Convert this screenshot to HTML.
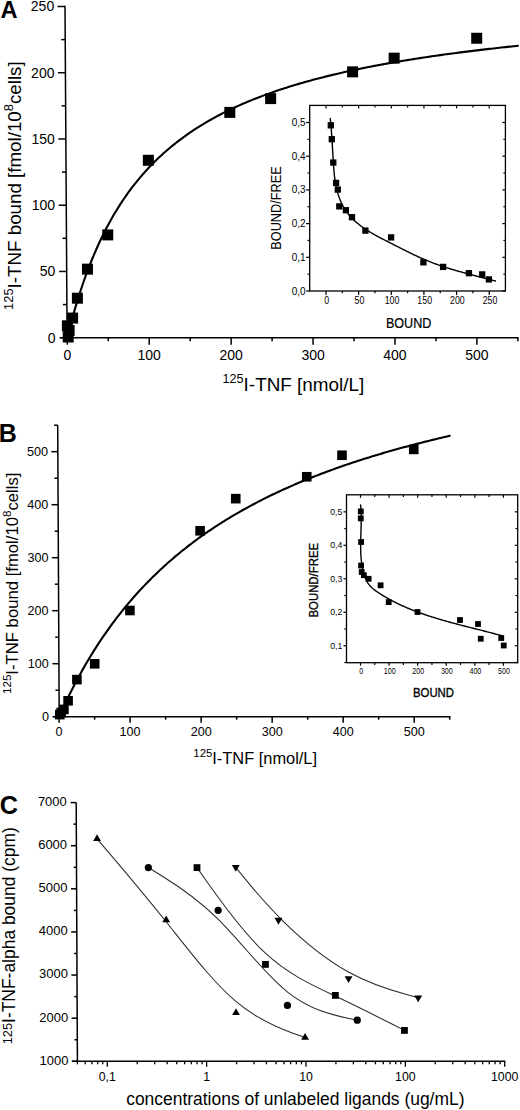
<!DOCTYPE html>
<html><head><meta charset="utf-8"><style>
html,body{margin:0;padding:0;background:#fff;}
body{width:520px;height:1110px;overflow:hidden;}
svg{display:block;}
text{font-family:"Liberation Sans", sans-serif;fill:#000;}
</style></head><body>
<svg width="520" height="1110" viewBox="0 0 520 1110">
<rect width="520" height="1110" fill="#fff"/>
<line x1="65" y1="5.8" x2="67.1" y2="337.7" stroke="#000" stroke-width="1.5"/>
<line x1="59.6" y1="337.7" x2="67.1" y2="337.7" stroke="#000" stroke-width="1.5"/>
<line x1="62.89" y1="304.58" x2="66.89" y2="304.58" stroke="#000" stroke-width="1.5"/>
<line x1="59.18" y1="271.46" x2="66.68" y2="271.46" stroke="#000" stroke-width="1.5"/>
<line x1="62.47" y1="238.34" x2="66.47" y2="238.34" stroke="#000" stroke-width="1.5"/>
<line x1="58.76" y1="205.22" x2="66.26" y2="205.22" stroke="#000" stroke-width="1.5"/>
<line x1="62.05" y1="172.1" x2="66.05" y2="172.1" stroke="#000" stroke-width="1.5"/>
<line x1="58.34" y1="138.98" x2="65.84" y2="138.98" stroke="#000" stroke-width="1.5"/>
<line x1="61.63" y1="105.86" x2="65.63" y2="105.86" stroke="#000" stroke-width="1.5"/>
<line x1="57.92" y1="72.74" x2="65.42" y2="72.74" stroke="#000" stroke-width="1.5"/>
<line x1="61.21" y1="39.62" x2="65.21" y2="39.62" stroke="#000" stroke-width="1.5"/>
<line x1="57.5" y1="6.5" x2="65" y2="6.5" stroke="#000" stroke-width="1.5"/>
<text x="55.6" y="342.5" font-size="14" text-anchor="end" font-weight="normal" >0</text>
<text x="55.32" y="276.26" font-size="14" text-anchor="end" font-weight="normal" >50</text>
<text x="55.04" y="210.02" font-size="14" text-anchor="end" font-weight="normal" >100</text>
<text x="54.76" y="143.78" font-size="14" text-anchor="end" font-weight="normal" >150</text>
<text x="54.48" y="77.54" font-size="14" text-anchor="end" font-weight="normal" >200</text>
<text x="54.2" y="11.3" font-size="14" text-anchor="end" font-weight="normal" >250</text>
<line x1="60.2" y1="337.7" x2="518.56" y2="337.7" stroke="#000" stroke-width="1.5"/>
<line x1="67.3" y1="337.7" x2="67.3" y2="344.7" stroke="#000" stroke-width="1.5"/>
<line x1="108.26" y1="337.7" x2="108.26" y2="341.2" stroke="#000" stroke-width="1.5"/>
<line x1="149.22" y1="337.7" x2="149.22" y2="344.7" stroke="#000" stroke-width="1.5"/>
<line x1="190.18" y1="337.7" x2="190.18" y2="341.2" stroke="#000" stroke-width="1.5"/>
<line x1="231.14" y1="337.7" x2="231.14" y2="344.7" stroke="#000" stroke-width="1.5"/>
<line x1="272.1" y1="337.7" x2="272.1" y2="341.2" stroke="#000" stroke-width="1.5"/>
<line x1="313.06" y1="337.7" x2="313.06" y2="344.7" stroke="#000" stroke-width="1.5"/>
<line x1="354.02" y1="337.7" x2="354.02" y2="341.2" stroke="#000" stroke-width="1.5"/>
<line x1="394.98" y1="337.7" x2="394.98" y2="344.7" stroke="#000" stroke-width="1.5"/>
<line x1="435.94" y1="337.7" x2="435.94" y2="341.2" stroke="#000" stroke-width="1.5"/>
<line x1="476.9" y1="337.7" x2="476.9" y2="344.7" stroke="#000" stroke-width="1.5"/>
<line x1="517.86" y1="337.7" x2="517.86" y2="341.2" stroke="#000" stroke-width="1.5"/>
<text x="67.3" y="359.9" font-size="14" text-anchor="middle" font-weight="normal" >0</text>
<text x="149.22" y="359.9" font-size="14" text-anchor="middle" font-weight="normal" >100</text>
<text x="231.14" y="359.9" font-size="14" text-anchor="middle" font-weight="normal" >200</text>
<text x="313.06" y="359.9" font-size="14" text-anchor="middle" font-weight="normal" >300</text>
<text x="394.98" y="359.9" font-size="14" text-anchor="middle" font-weight="normal" >400</text>
<text x="476.9" y="359.9" font-size="14" text-anchor="middle" font-weight="normal" >500</text>
<path d="M67.3,337.7 L69.35,329.52 L71.4,321.72 L73.44,314.27 L75.49,307.14 L77.54,300.33 L79.59,293.8 L81.64,287.54 L83.68,281.53 L85.73,275.77 L87.78,270.22 L89.83,264.89 L91.88,259.76 L93.92,254.82 L95.97,250.05 L98.02,245.46 L100.07,241.02 L102.12,236.74 L104.16,232.6 L106.21,228.6 L108.26,224.73 L110.31,220.98 L112.36,217.35 L114.4,213.83 L116.45,210.42 L118.5,207.12 L120.55,203.91 L122.6,200.79 L124.64,197.77 L126.69,194.83 L128.74,191.97 L130.79,189.19 L132.84,186.49 L134.88,183.86 L136.93,181.3 L138.98,178.81 L141.03,176.38 L143.08,174.02 L145.12,171.71 L147.17,169.46 L149.22,167.27 L151.27,165.13 L153.32,163.04 L155.36,161 L157.41,159 L159.46,157.06 L161.51,155.16 L163.56,153.3 L165.6,151.48 L167.65,149.7 L169.7,147.97 L171.75,146.27 L173.8,144.6 L175.84,142.97 L177.89,141.38 L179.94,139.82 L181.99,138.29 L184.04,136.79 L186.08,135.32 L188.13,133.88 L190.18,132.47 L192.23,131.09 L194.28,129.73 L196.32,128.4 L198.37,127.1 L200.42,125.82 L202.47,124.56 L204.52,123.33 L206.56,122.12 L208.61,120.93 L210.66,119.76 L212.71,118.62 L214.76,117.49 L216.8,116.38 L218.85,115.29 L220.9,114.23 L222.95,113.17 L225,112.14 L227.04,111.13 L229.09,110.13 L231.14,109.14 L233.19,108.18 L235.24,107.23 L237.28,106.29 L239.33,105.37 L241.38,104.47 L243.43,103.57 L245.48,102.7 L247.52,101.83 L249.57,100.98 L251.62,100.14 L253.67,99.32 L255.72,98.51 L257.76,97.7 L259.81,96.92 L261.86,96.14 L263.91,95.37 L265.96,94.62 L268,93.87 L270.05,93.14 L272.1,92.42 L274.15,91.7 L276.2,91 L278.24,90.31 L280.29,89.62 L282.34,88.95 L284.39,88.28 L286.44,87.63 L288.48,86.98 L290.53,86.34 L292.58,85.71 L294.63,85.09 L296.68,84.47 L298.72,83.87 L300.77,83.27 L302.82,82.68 L304.87,82.09 L306.92,81.52 L308.96,80.95 L311.01,80.39 L313.06,79.83 L315.11,79.28 L317.16,78.74 L319.2,78.21 L321.25,77.68 L323.3,77.16 L325.35,76.64 L327.4,76.13 L329.44,75.63 L331.49,75.13 L333.54,74.64 L335.59,74.16 L337.64,73.68 L339.68,73.2 L341.73,72.73 L343.78,72.27 L345.83,71.81 L347.88,71.35 L349.92,70.91 L351.97,70.46 L354.02,70.02 L356.07,69.59 L358.12,69.16 L360.16,68.74 L362.21,68.32 L364.26,67.9 L366.31,67.49 L368.36,67.08 L370.4,66.68 L372.45,66.28 L374.5,65.89 L376.55,65.5 L378.6,65.11 L380.64,64.73 L382.69,64.35 L384.74,63.98 L386.79,63.61 L388.84,63.24 L390.88,62.88 L392.93,62.52 L394.98,62.16 L397.03,61.81 L399.08,61.46 L401.12,61.12 L403.17,60.77 L405.22,60.44 L407.27,60.1 L409.32,59.77 L411.36,59.44 L413.41,59.11 L415.46,58.79 L417.51,58.47 L419.56,58.15 L421.6,57.84 L423.65,57.53 L425.7,57.22 L427.75,56.92 L429.8,56.61 L431.84,56.31 L433.89,56.02 L435.94,55.72 L437.99,55.43 L440.04,55.14 L442.08,54.86 L444.13,54.57 L446.18,54.29 L448.23,54.01 L450.28,53.73 L452.32,53.46 L454.37,53.19 L456.42,52.92 L458.47,52.65 L460.52,52.39 L462.56,52.13 L464.61,51.87 L466.66,51.61 L468.71,51.35 L470.76,51.1 L472.8,50.85 L474.85,50.6 L476.9,50.35 L478.95,50.1 L481,49.86 L483.04,49.62 L485.09,49.38 L487.14,49.14 L489.19,48.91 L491.24,48.67 L493.28,48.44 L495.33,48.21 L497.38,47.98 L499.43,47.76 L501.48,47.53 L503.52,47.31 L505.57,47.09 L507.62,46.87 L509.67,46.65 L511.72,46.44 L513.76,46.22 L515.81,46.01 L517.86,45.8" fill="none" stroke="#000" stroke-width="2.1" stroke-linejoin="round" stroke-linecap="round"/>
<rect x="142.85" y="154.8" width="11" height="11" fill="#000"/>
<rect x="102.25" y="229.4" width="11" height="11" fill="#000"/>
<rect x="81.95" y="263.65" width="11" height="11" fill="#000"/>
<rect x="71.9" y="292.7" width="11" height="11" fill="#000"/>
<rect x="67.1" y="312.55" width="11" height="11" fill="#000"/>
<rect x="224.3" y="106.9" width="11" height="11" fill="#000"/>
<rect x="265.15" y="93.1" width="11" height="11" fill="#000"/>
<rect x="347.1" y="66.35" width="11" height="11" fill="#000"/>
<rect x="388.65" y="52.65" width="11" height="11" fill="#000"/>
<rect x="471.2" y="32.75" width="11" height="11" fill="#000"/>
<rect x="61.9" y="320.3" width="11" height="11" fill="#000"/>
<rect x="63.6" y="325" width="11" height="11" fill="#000"/>
<rect x="62.7" y="331.5" width="11" height="11" fill="#000"/>
<text x="0.5" y="18.3" font-size="23.6" text-anchor="start" font-weight="bold" >A</text>
<text x="222.6" y="391.2" font-size="18.9"><tspan font-size="12.6" dy="-8.4">125</tspan><tspan dy="8.4">I-TNF [nmol/L]</tspan></text>
<text transform="translate(20.7,309.9) rotate(-90)" x="0" y="0" font-size="18.75"><tspan font-size="12.9" dy="-7.9">125</tspan><tspan dy="7.9">I-TNF bound [fmol/10</tspan><tspan font-size="12.9" dy="-7.9">8</tspan><tspan dy="7.9">cells]</tspan></text>
<rect x="309.7" y="105.4" width="195.7" height="185.6" fill="none" stroke="#000" stroke-width="1.3"/>
<line x1="326" y1="291" x2="326" y2="295" stroke="#000" stroke-width="1.2"/>
<line x1="326" y1="105.4" x2="326" y2="108.4" stroke="#000" stroke-width="1.2"/>
<line x1="342.32" y1="291" x2="342.32" y2="293.2" stroke="#000" stroke-width="1.2"/>
<line x1="342.32" y1="105.4" x2="342.32" y2="107.4" stroke="#000" stroke-width="1.2"/>
<line x1="358.64" y1="291" x2="358.64" y2="295" stroke="#000" stroke-width="1.2"/>
<line x1="358.64" y1="105.4" x2="358.64" y2="108.4" stroke="#000" stroke-width="1.2"/>
<line x1="374.96" y1="291" x2="374.96" y2="293.2" stroke="#000" stroke-width="1.2"/>
<line x1="374.96" y1="105.4" x2="374.96" y2="107.4" stroke="#000" stroke-width="1.2"/>
<line x1="391.28" y1="291" x2="391.28" y2="295" stroke="#000" stroke-width="1.2"/>
<line x1="391.28" y1="105.4" x2="391.28" y2="108.4" stroke="#000" stroke-width="1.2"/>
<line x1="407.6" y1="291" x2="407.6" y2="293.2" stroke="#000" stroke-width="1.2"/>
<line x1="407.6" y1="105.4" x2="407.6" y2="107.4" stroke="#000" stroke-width="1.2"/>
<line x1="423.92" y1="291" x2="423.92" y2="295" stroke="#000" stroke-width="1.2"/>
<line x1="423.92" y1="105.4" x2="423.92" y2="108.4" stroke="#000" stroke-width="1.2"/>
<line x1="440.24" y1="291" x2="440.24" y2="293.2" stroke="#000" stroke-width="1.2"/>
<line x1="440.24" y1="105.4" x2="440.24" y2="107.4" stroke="#000" stroke-width="1.2"/>
<line x1="456.56" y1="291" x2="456.56" y2="295" stroke="#000" stroke-width="1.2"/>
<line x1="456.56" y1="105.4" x2="456.56" y2="108.4" stroke="#000" stroke-width="1.2"/>
<line x1="472.88" y1="291" x2="472.88" y2="293.2" stroke="#000" stroke-width="1.2"/>
<line x1="472.88" y1="105.4" x2="472.88" y2="107.4" stroke="#000" stroke-width="1.2"/>
<line x1="489.2" y1="291" x2="489.2" y2="295" stroke="#000" stroke-width="1.2"/>
<line x1="489.2" y1="105.4" x2="489.2" y2="108.4" stroke="#000" stroke-width="1.2"/>
<line x1="306.1" y1="291" x2="309.7" y2="291" stroke="#000" stroke-width="1.2"/>
<line x1="502.4" y1="291" x2="505.4" y2="291" stroke="#000" stroke-width="1.2"/>
<line x1="307.5" y1="274.15" x2="309.7" y2="274.15" stroke="#000" stroke-width="1.2"/>
<line x1="503.4" y1="274.15" x2="505.4" y2="274.15" stroke="#000" stroke-width="1.2"/>
<line x1="306.1" y1="257.3" x2="309.7" y2="257.3" stroke="#000" stroke-width="1.2"/>
<line x1="502.4" y1="257.3" x2="505.4" y2="257.3" stroke="#000" stroke-width="1.2"/>
<line x1="307.5" y1="240.45" x2="309.7" y2="240.45" stroke="#000" stroke-width="1.2"/>
<line x1="503.4" y1="240.45" x2="505.4" y2="240.45" stroke="#000" stroke-width="1.2"/>
<line x1="306.1" y1="223.6" x2="309.7" y2="223.6" stroke="#000" stroke-width="1.2"/>
<line x1="502.4" y1="223.6" x2="505.4" y2="223.6" stroke="#000" stroke-width="1.2"/>
<line x1="307.5" y1="206.75" x2="309.7" y2="206.75" stroke="#000" stroke-width="1.2"/>
<line x1="503.4" y1="206.75" x2="505.4" y2="206.75" stroke="#000" stroke-width="1.2"/>
<line x1="306.1" y1="189.9" x2="309.7" y2="189.9" stroke="#000" stroke-width="1.2"/>
<line x1="502.4" y1="189.9" x2="505.4" y2="189.9" stroke="#000" stroke-width="1.2"/>
<line x1="307.5" y1="173.05" x2="309.7" y2="173.05" stroke="#000" stroke-width="1.2"/>
<line x1="503.4" y1="173.05" x2="505.4" y2="173.05" stroke="#000" stroke-width="1.2"/>
<line x1="306.1" y1="156.2" x2="309.7" y2="156.2" stroke="#000" stroke-width="1.2"/>
<line x1="502.4" y1="156.2" x2="505.4" y2="156.2" stroke="#000" stroke-width="1.2"/>
<line x1="307.5" y1="139.35" x2="309.7" y2="139.35" stroke="#000" stroke-width="1.2"/>
<line x1="503.4" y1="139.35" x2="505.4" y2="139.35" stroke="#000" stroke-width="1.2"/>
<line x1="306.1" y1="122.5" x2="309.7" y2="122.5" stroke="#000" stroke-width="1.2"/>
<line x1="502.4" y1="122.5" x2="505.4" y2="122.5" stroke="#000" stroke-width="1.2"/>
<text x="326.8" y="303.6" font-size="11.3" text-anchor="middle" font-weight="normal" textLength="4.9" lengthAdjust="spacingAndGlyphs">0</text>
<text x="359.44" y="303.6" font-size="11.3" text-anchor="middle" font-weight="normal" textLength="9.8" lengthAdjust="spacingAndGlyphs">50</text>
<text x="392.08" y="303.6" font-size="11.3" text-anchor="middle" font-weight="normal" textLength="14.7" lengthAdjust="spacingAndGlyphs">100</text>
<text x="424.72" y="303.6" font-size="11.3" text-anchor="middle" font-weight="normal" textLength="14.7" lengthAdjust="spacingAndGlyphs">150</text>
<text x="457.36" y="303.6" font-size="11.3" text-anchor="middle" font-weight="normal" textLength="14.7" lengthAdjust="spacingAndGlyphs">200</text>
<text x="490" y="303.6" font-size="11.3" text-anchor="middle" font-weight="normal" textLength="14.7" lengthAdjust="spacingAndGlyphs">250</text>
<text x="305.6" y="294.5" font-size="10.9" text-anchor="end" font-weight="normal" textLength="13.9" lengthAdjust="spacingAndGlyphs">0,0</text>
<text x="305.6" y="260.8" font-size="10.9" text-anchor="end" font-weight="normal" textLength="13.9" lengthAdjust="spacingAndGlyphs">0,1</text>
<text x="305.6" y="227.1" font-size="10.9" text-anchor="end" font-weight="normal" textLength="13.9" lengthAdjust="spacingAndGlyphs">0,2</text>
<text x="305.6" y="193.4" font-size="10.9" text-anchor="end" font-weight="normal" textLength="13.9" lengthAdjust="spacingAndGlyphs">0,3</text>
<text x="305.6" y="159.7" font-size="10.9" text-anchor="end" font-weight="normal" textLength="13.9" lengthAdjust="spacingAndGlyphs">0,4</text>
<text x="305.6" y="126" font-size="10.9" text-anchor="end" font-weight="normal" textLength="13.9" lengthAdjust="spacingAndGlyphs">0,5</text>
<text transform="translate(280.5,208) rotate(-90)" x="0" y="0" font-size="14.8" text-anchor="middle" textLength="83.6" lengthAdjust="spacingAndGlyphs">BOUND/FREE</text>
<text x="385.9" y="328.2" font-size="14.2" text-anchor="start" font-weight="normal" textLength="45.4" lengthAdjust="spacingAndGlyphs" stroke="#000" stroke-width="0.2">BOUND</text>
<path d="M330.27,118.51 L330.41,119.8 L330.55,121.09 L330.68,122.38 L330.8,123.67 L330.92,124.96 L331.03,126.26 L331.14,127.55 L331.25,128.85 L331.35,130.15 L331.45,131.45 L331.55,132.75 L331.64,134.05 L331.73,135.35 L331.81,136.66 L331.9,137.96 L331.98,139.27 L332.06,140.58 L332.14,141.89 L332.22,143.2 L332.3,144.51 L332.37,145.83 L332.45,147.14 L332.52,148.46 L332.6,149.78 L332.67,151.1 L332.75,152.43 L332.82,153.75 L332.9,155.08 L332.98,156.4 L333.06,157.74 L333.14,159.07 L333.22,160.4 L333.3,161.74 L333.39,163.07 L333.48,164.41 L333.57,165.76 L333.67,167.1 L333.77,168.44 L333.88,169.78 L333.99,171.12 L334.12,172.47 L334.25,173.8 L334.39,175.14 L334.54,176.48 L334.7,177.81 L334.88,179.14 L335.06,180.46 L335.26,181.78 L335.48,183.1 L335.71,184.41 L335.96,185.72 L336.22,187.02 L336.5,188.31 L336.8,189.59 L337.12,190.87 L337.46,192.14 L337.83,193.4 L338.21,194.66 L338.61,195.9 L339.04,197.13 L339.49,198.35 L339.96,199.56 L340.46,200.76 L340.98,201.95 L341.52,203.12 L342.09,204.28 L342.68,205.43 L343.29,206.56 L343.93,207.68 L344.6,208.78 L345.28,209.87 L346,210.94 L346.74,211.99 L347.5,213.02 L348.29,214.04 L349.11,215.03 L349.95,216.01 L350.81,216.98 L351.7,217.92 L352.61,218.85 L353.53,219.76 L354.48,220.66 L355.45,221.54 L356.43,222.4 L357.43,223.25 L358.45,224.08 L359.48,224.9 L360.53,225.7 L361.59,226.49 L362.66,227.27 L363.75,228.03 L364.84,228.78 L365.95,229.52 L367.06,230.24 L368.18,230.95 L369.32,231.65 L370.45,232.34 L371.6,233.02 L372.75,233.69 L373.91,234.35 L375.08,235.01 L376.24,235.65 L377.42,236.29 L378.6,236.92 L379.78,237.55 L380.96,238.17 L382.15,238.78 L383.34,239.39 L384.53,240 L385.72,240.61 L386.91,241.21 L388.1,241.81 L389.29,242.41 L390.48,243.02 L391.67,243.62 L392.85,244.22 L394.04,244.82 L395.22,245.42 L396.4,246.02 L397.58,246.62 L398.76,247.23 L399.94,247.83 L401.11,248.42 L402.29,249.02 L403.47,249.62 L404.64,250.21 L405.82,250.8 L406.99,251.39 L408.17,251.97 L409.35,252.55 L410.53,253.13 L411.71,253.71 L412.89,254.28 L414.07,254.84 L415.25,255.4 L416.44,255.96 L417.63,256.51 L418.82,257.06 L420.01,257.6 L421.21,258.13 L422.4,258.66 L423.61,259.18 L424.81,259.7 L426.02,260.2 L427.23,260.7 L428.44,261.19 L429.66,261.68 L430.88,262.16 L432.11,262.63 L433.34,263.09 L434.57,263.55 L435.8,264 L437.04,264.45 L438.28,264.89 L439.52,265.32 L440.77,265.75 L442.02,266.17 L443.27,266.59 L444.52,267 L445.78,267.41 L447.03,267.81 L448.29,268.21 L449.55,268.6 L450.82,268.99 L452.08,269.37 L453.35,269.75 L454.61,270.12 L455.88,270.5 L457.15,270.86 L458.43,271.23 L459.7,271.59 L460.97,271.95 L462.25,272.3 L463.53,272.65 L464.8,273 L466.08,273.35 L467.36,273.7 L468.64,274.04 L469.92,274.38 L471.2,274.72 L472.48,275.05 L473.76,275.39 L475.04,275.72 L476.32,276.05 L477.6,276.39 L478.88,276.72 L480.15,277.05 L481.43,277.38 L482.71,277.7 L483.99,278.03 L485.27,278.36 L486.54,278.69 L487.82,279.02 L489.09,279.35 L490.36,279.68 L491.64,280.01 L492.91,280.34 L494.18,280.67 L495.44,281" fill="none" stroke="#000" stroke-width="1.4" stroke-linejoin="round" stroke-linecap="round"/>
<rect x="327.65" y="122.15" width="6.3" height="6.3" fill="#000"/>
<rect x="328.65" y="136.05" width="6.3" height="6.3" fill="#000"/>
<rect x="330.15" y="159.4" width="6.3" height="6.3" fill="#000"/>
<rect x="332.95" y="179.75" width="6.3" height="6.3" fill="#000"/>
<rect x="334.65" y="186.45" width="6.3" height="6.3" fill="#000"/>
<rect x="336.15" y="203.25" width="6.3" height="6.3" fill="#000"/>
<rect x="342.75" y="207.05" width="6.3" height="6.3" fill="#000"/>
<rect x="348.85" y="214.05" width="6.3" height="6.3" fill="#000"/>
<rect x="362.25" y="227.45" width="6.3" height="6.3" fill="#000"/>
<rect x="387.95" y="234.25" width="6.3" height="6.3" fill="#000"/>
<rect x="420.25" y="259.15" width="6.3" height="6.3" fill="#000"/>
<rect x="439.95" y="263.75" width="6.3" height="6.3" fill="#000"/>
<rect x="465.75" y="270.05" width="6.3" height="6.3" fill="#000"/>
<rect x="479.05" y="271.25" width="6.3" height="6.3" fill="#000"/>
<rect x="485.75" y="276.25" width="6.3" height="6.3" fill="#000"/>
<line x1="57.7" y1="425.2" x2="59.2" y2="716.7" stroke="#000" stroke-width="1.5"/>
<line x1="52.7" y1="716.7" x2="59.2" y2="716.7" stroke="#000" stroke-width="1.5"/>
<line x1="55.46" y1="690.2" x2="59.06" y2="690.2" stroke="#000" stroke-width="1.5"/>
<line x1="52.43" y1="663.7" x2="58.93" y2="663.7" stroke="#000" stroke-width="1.5"/>
<line x1="55.19" y1="637.2" x2="58.79" y2="637.2" stroke="#000" stroke-width="1.5"/>
<line x1="52.16" y1="610.7" x2="58.66" y2="610.7" stroke="#000" stroke-width="1.5"/>
<line x1="54.92" y1="584.2" x2="58.52" y2="584.2" stroke="#000" stroke-width="1.5"/>
<line x1="51.88" y1="557.7" x2="58.38" y2="557.7" stroke="#000" stroke-width="1.5"/>
<line x1="54.65" y1="531.2" x2="58.25" y2="531.2" stroke="#000" stroke-width="1.5"/>
<line x1="51.61" y1="504.7" x2="58.11" y2="504.7" stroke="#000" stroke-width="1.5"/>
<line x1="54.38" y1="478.2" x2="57.98" y2="478.2" stroke="#000" stroke-width="1.5"/>
<line x1="51.34" y1="451.7" x2="57.84" y2="451.7" stroke="#000" stroke-width="1.5"/>
<line x1="54.1" y1="425.2" x2="57.7" y2="425.2" stroke="#000" stroke-width="1.5"/>
<text x="49" y="720.9" font-size="12.6" text-anchor="end" font-weight="normal" >0</text>
<text x="48.82" y="667.9" font-size="12.6" text-anchor="end" font-weight="normal" >100</text>
<text x="48.64" y="614.9" font-size="12.6" text-anchor="end" font-weight="normal" >200</text>
<text x="48.46" y="561.9" font-size="12.6" text-anchor="end" font-weight="normal" >300</text>
<text x="48.28" y="508.9" font-size="12.6" text-anchor="end" font-weight="normal" >400</text>
<text x="48.1" y="455.9" font-size="12.6" text-anchor="end" font-weight="normal" >500</text>
<line x1="52.7" y1="716.7" x2="450.41" y2="716.7" stroke="#000" stroke-width="1.5"/>
<line x1="59.1" y1="716.7" x2="59.1" y2="722.7" stroke="#000" stroke-width="1.5"/>
<line x1="94.61" y1="716.7" x2="94.61" y2="719.7" stroke="#000" stroke-width="1.5"/>
<line x1="130.12" y1="716.7" x2="130.12" y2="722.7" stroke="#000" stroke-width="1.5"/>
<line x1="165.63" y1="716.7" x2="165.63" y2="719.7" stroke="#000" stroke-width="1.5"/>
<line x1="201.14" y1="716.7" x2="201.14" y2="722.7" stroke="#000" stroke-width="1.5"/>
<line x1="236.65" y1="716.7" x2="236.65" y2="719.7" stroke="#000" stroke-width="1.5"/>
<line x1="272.16" y1="716.7" x2="272.16" y2="722.7" stroke="#000" stroke-width="1.5"/>
<line x1="307.67" y1="716.7" x2="307.67" y2="719.7" stroke="#000" stroke-width="1.5"/>
<line x1="343.18" y1="716.7" x2="343.18" y2="722.7" stroke="#000" stroke-width="1.5"/>
<line x1="378.69" y1="716.7" x2="378.69" y2="719.7" stroke="#000" stroke-width="1.5"/>
<line x1="414.2" y1="716.7" x2="414.2" y2="722.7" stroke="#000" stroke-width="1.5"/>
<line x1="449.71" y1="716.7" x2="449.71" y2="719.7" stroke="#000" stroke-width="1.5"/>
<text x="59.1" y="735.6" font-size="12.6" text-anchor="middle" font-weight="normal" >0</text>
<text x="130.12" y="735.6" font-size="12.6" text-anchor="middle" font-weight="normal" >100</text>
<text x="201.14" y="735.6" font-size="12.6" text-anchor="middle" font-weight="normal" >200</text>
<text x="272.16" y="735.6" font-size="12.6" text-anchor="middle" font-weight="normal" >300</text>
<text x="343.18" y="735.6" font-size="12.6" text-anchor="middle" font-weight="normal" >400</text>
<text x="414.2" y="735.6" font-size="12.6" text-anchor="middle" font-weight="normal" >500</text>
<path d="M59.1,716.7 L60.88,712.74 L62.65,708.85 L64.43,705.03 L66.2,701.29 L67.98,697.61 L69.75,694 L71.53,690.46 L73.3,686.98 L75.08,683.57 L76.86,680.21 L78.63,676.91 L80.41,673.67 L82.18,670.49 L83.96,667.36 L85.73,664.28 L87.51,661.26 L89.28,658.29 L91.06,655.36 L92.83,652.48 L94.61,649.65 L96.39,646.87 L98.16,644.13 L99.94,641.43 L101.71,638.78 L103.49,636.16 L105.26,633.59 L107.04,631.06 L108.81,628.57 L110.59,626.11 L112.37,623.69 L114.14,621.31 L115.92,618.96 L117.69,616.65 L119.47,614.37 L121.24,612.12 L123.02,609.91 L124.79,607.72 L126.57,605.57 L128.34,603.45 L130.12,601.36 L131.9,599.3 L133.67,597.26 L135.45,595.26 L137.22,593.28 L139,591.33 L140.77,589.4 L142.55,587.5 L144.32,585.63 L146.1,583.77 L147.88,581.95 L149.65,580.15 L151.43,578.37 L153.2,576.61 L154.98,574.88 L156.75,573.16 L158.53,571.47 L160.3,569.8 L162.08,568.16 L163.85,566.53 L165.63,564.92 L167.41,563.33 L169.18,561.76 L170.96,560.21 L172.73,558.68 L174.51,557.16 L176.28,555.67 L178.06,554.19 L179.83,552.73 L181.61,551.28 L183.39,549.86 L185.16,548.45 L186.94,547.05 L188.71,545.67 L190.49,544.31 L192.26,542.96 L194.04,541.63 L195.81,540.31 L197.59,539.01 L199.36,537.72 L201.14,536.44 L202.92,535.18 L204.69,533.93 L206.47,532.7 L208.24,531.48 L210.02,530.27 L211.79,529.07 L213.57,527.89 L215.34,526.72 L217.12,525.56 L218.9,524.42 L220.67,523.28 L222.45,522.16 L224.22,521.05 L226,519.95 L227.77,518.86 L229.55,517.78 L231.32,516.72 L233.1,515.66 L234.87,514.61 L236.65,513.58 L238.43,512.55 L240.2,511.54 L241.98,510.53 L243.75,509.53 L245.53,508.55 L247.3,507.57 L249.08,506.6 L250.85,505.64 L252.63,504.7 L254.41,503.75 L256.18,502.82 L257.96,501.9 L259.73,500.99 L261.51,500.08 L263.28,499.18 L265.06,498.29 L266.83,497.41 L268.61,496.54 L270.38,495.67 L272.16,494.81 L273.94,493.96 L275.71,493.12 L277.49,492.28 L279.26,491.46 L281.04,490.64 L282.81,489.82 L284.59,489.02 L286.36,488.22 L288.14,487.42 L289.92,486.64 L291.69,485.86 L293.47,485.09 L295.24,484.32 L297.02,483.56 L298.79,482.81 L300.57,482.06 L302.34,481.32 L304.12,480.59 L305.89,479.86 L307.67,479.14 L309.45,478.42 L311.22,477.71 L313,477.01 L314.77,476.31 L316.55,475.61 L318.32,474.93 L320.1,474.24 L321.87,473.57 L323.65,472.9 L325.43,472.23 L327.2,471.57 L328.98,470.91 L330.75,470.26 L332.53,469.62 L334.3,468.98 L336.08,468.34 L337.85,467.71 L339.63,467.08 L341.4,466.46 L343.18,465.85 L344.96,465.24 L346.73,464.63 L348.51,464.03 L350.28,463.43 L352.06,462.83 L353.83,462.24 L355.61,461.66 L357.38,461.08 L359.16,460.5 L360.94,459.93 L362.71,459.36 L364.49,458.8 L366.26,458.24 L368.04,457.68 L369.81,457.13 L371.59,456.59 L373.36,456.04 L375.14,455.5 L376.91,454.97 L378.69,454.43 L380.47,453.91 L382.24,453.38 L384.02,452.86 L385.79,452.34 L387.57,451.83 L389.34,451.32 L391.12,450.81 L392.89,450.31 L394.67,449.81 L396.45,449.31 L398.22,448.82 L400,448.33 L401.77,447.84 L403.55,447.36 L405.32,446.88 L407.1,446.4 L408.87,445.93 L410.65,445.46 L412.42,444.99 L414.2,444.53 L415.98,444.07 L417.75,443.61 L419.53,443.15 L421.3,442.7 L423.08,442.25 L424.85,441.81 L426.63,441.36 L428.4,440.92 L430.18,440.49 L431.96,440.05 L433.73,439.62 L435.51,439.19 L437.28,438.76 L439.06,438.34 L440.83,437.92 L442.61,437.5 L444.38,437.08 L446.16,436.67 L447.93,436.26 L449.71,435.85" fill="none" stroke="#000" stroke-width="2.1" stroke-linejoin="round" stroke-linecap="round"/>
<rect x="125.1" y="605.7" width="9.6" height="9.6" fill="#000"/>
<rect x="89.9" y="659" width="9.6" height="9.6" fill="#000"/>
<rect x="72.1" y="674.8" width="9.6" height="9.6" fill="#000"/>
<rect x="63.3" y="696" width="9.6" height="9.6" fill="#000"/>
<rect x="59.1" y="704.6" width="9.6" height="9.6" fill="#000"/>
<rect x="195.3" y="526" width="9.6" height="9.6" fill="#000"/>
<rect x="230.95" y="493.85" width="9.6" height="9.6" fill="#000"/>
<rect x="301.95" y="471.95" width="9.6" height="9.6" fill="#000"/>
<rect x="337.2" y="450.45" width="9.6" height="9.6" fill="#000"/>
<rect x="408.95" y="444.6" width="9.6" height="9.6" fill="#000"/>
<rect x="55" y="709.8" width="9.6" height="9.6" fill="#000"/>
<rect x="56.4" y="707.7" width="9.6" height="9.6" fill="#000"/>
<text x="-1.2" y="441.6" font-size="25" text-anchor="start" font-weight="bold" >B</text>
<text x="193.3" y="763.6" font-size="16.4"><tspan font-size="11.4" dy="-6.9">125</tspan><tspan dy="6.9">I-TNF [nmol/L]</tspan></text>
<text transform="translate(17.7,694.0) rotate(-90)" x="0" y="0" font-size="16.7"><tspan font-size="11.6" dy="-6.9">125</tspan><tspan dy="6.9">I-TNF bound [fmol/10</tspan><tspan font-size="11.6" dy="-6.9">8</tspan><tspan dy="6.9">cells]</tspan></text>
<rect x="346.5" y="494.8" width="171.2" height="167.9" fill="none" stroke="#000" stroke-width="1.3"/>
<line x1="360.5" y1="662.7" x2="360.5" y2="665.7" stroke="#000" stroke-width="1.2"/>
<line x1="360.5" y1="494.8" x2="360.5" y2="497.8" stroke="#000" stroke-width="1.2"/>
<line x1="374.79" y1="662.7" x2="374.79" y2="664.9" stroke="#000" stroke-width="1.2"/>
<line x1="374.79" y1="494.8" x2="374.79" y2="497" stroke="#000" stroke-width="1.2"/>
<line x1="389.08" y1="662.7" x2="389.08" y2="665.7" stroke="#000" stroke-width="1.2"/>
<line x1="389.08" y1="494.8" x2="389.08" y2="497.8" stroke="#000" stroke-width="1.2"/>
<line x1="403.37" y1="662.7" x2="403.37" y2="664.9" stroke="#000" stroke-width="1.2"/>
<line x1="403.37" y1="494.8" x2="403.37" y2="497" stroke="#000" stroke-width="1.2"/>
<line x1="417.66" y1="662.7" x2="417.66" y2="665.7" stroke="#000" stroke-width="1.2"/>
<line x1="417.66" y1="494.8" x2="417.66" y2="497.8" stroke="#000" stroke-width="1.2"/>
<line x1="431.95" y1="662.7" x2="431.95" y2="664.9" stroke="#000" stroke-width="1.2"/>
<line x1="431.95" y1="494.8" x2="431.95" y2="497" stroke="#000" stroke-width="1.2"/>
<line x1="446.24" y1="662.7" x2="446.24" y2="665.7" stroke="#000" stroke-width="1.2"/>
<line x1="446.24" y1="494.8" x2="446.24" y2="497.8" stroke="#000" stroke-width="1.2"/>
<line x1="460.53" y1="662.7" x2="460.53" y2="664.9" stroke="#000" stroke-width="1.2"/>
<line x1="460.53" y1="494.8" x2="460.53" y2="497" stroke="#000" stroke-width="1.2"/>
<line x1="474.82" y1="662.7" x2="474.82" y2="665.7" stroke="#000" stroke-width="1.2"/>
<line x1="474.82" y1="494.8" x2="474.82" y2="497.8" stroke="#000" stroke-width="1.2"/>
<line x1="489.11" y1="662.7" x2="489.11" y2="664.9" stroke="#000" stroke-width="1.2"/>
<line x1="489.11" y1="494.8" x2="489.11" y2="497" stroke="#000" stroke-width="1.2"/>
<line x1="503.4" y1="662.7" x2="503.4" y2="665.7" stroke="#000" stroke-width="1.2"/>
<line x1="503.4" y1="494.8" x2="503.4" y2="497.8" stroke="#000" stroke-width="1.2"/>
<line x1="344.3" y1="662.5" x2="346.5" y2="662.5" stroke="#000" stroke-width="1.2"/>
<line x1="515.5" y1="662.5" x2="517.7" y2="662.5" stroke="#000" stroke-width="1.2"/>
<line x1="343.5" y1="645.76" x2="346.5" y2="645.76" stroke="#000" stroke-width="1.2"/>
<line x1="514.7" y1="645.76" x2="517.7" y2="645.76" stroke="#000" stroke-width="1.2"/>
<line x1="344.3" y1="629.02" x2="346.5" y2="629.02" stroke="#000" stroke-width="1.2"/>
<line x1="515.5" y1="629.02" x2="517.7" y2="629.02" stroke="#000" stroke-width="1.2"/>
<line x1="343.5" y1="612.28" x2="346.5" y2="612.28" stroke="#000" stroke-width="1.2"/>
<line x1="514.7" y1="612.28" x2="517.7" y2="612.28" stroke="#000" stroke-width="1.2"/>
<line x1="344.3" y1="595.54" x2="346.5" y2="595.54" stroke="#000" stroke-width="1.2"/>
<line x1="515.5" y1="595.54" x2="517.7" y2="595.54" stroke="#000" stroke-width="1.2"/>
<line x1="343.5" y1="578.8" x2="346.5" y2="578.8" stroke="#000" stroke-width="1.2"/>
<line x1="514.7" y1="578.8" x2="517.7" y2="578.8" stroke="#000" stroke-width="1.2"/>
<line x1="344.3" y1="562.06" x2="346.5" y2="562.06" stroke="#000" stroke-width="1.2"/>
<line x1="515.5" y1="562.06" x2="517.7" y2="562.06" stroke="#000" stroke-width="1.2"/>
<line x1="343.5" y1="545.32" x2="346.5" y2="545.32" stroke="#000" stroke-width="1.2"/>
<line x1="514.7" y1="545.32" x2="517.7" y2="545.32" stroke="#000" stroke-width="1.2"/>
<line x1="344.3" y1="528.58" x2="346.5" y2="528.58" stroke="#000" stroke-width="1.2"/>
<line x1="515.5" y1="528.58" x2="517.7" y2="528.58" stroke="#000" stroke-width="1.2"/>
<line x1="343.5" y1="511.84" x2="346.5" y2="511.84" stroke="#000" stroke-width="1.2"/>
<line x1="514.7" y1="511.84" x2="517.7" y2="511.84" stroke="#000" stroke-width="1.2"/>
<text x="361.1" y="673.8" font-size="9.7" text-anchor="middle" font-weight="normal" textLength="3.94" lengthAdjust="spacingAndGlyphs">0</text>
<text x="389.68" y="673.8" font-size="9.7" text-anchor="middle" font-weight="normal" textLength="11.81" lengthAdjust="spacingAndGlyphs">100</text>
<text x="418.26" y="673.8" font-size="9.7" text-anchor="middle" font-weight="normal" textLength="11.81" lengthAdjust="spacingAndGlyphs">200</text>
<text x="446.84" y="673.8" font-size="9.7" text-anchor="middle" font-weight="normal" textLength="11.81" lengthAdjust="spacingAndGlyphs">300</text>
<text x="475.42" y="673.8" font-size="9.7" text-anchor="middle" font-weight="normal" textLength="11.81" lengthAdjust="spacingAndGlyphs">400</text>
<text x="504" y="673.8" font-size="9.7" text-anchor="middle" font-weight="normal" textLength="11.81" lengthAdjust="spacingAndGlyphs">500</text>
<text x="342.3" y="648.76" font-size="9.4" text-anchor="end" font-weight="normal" textLength="12.1" lengthAdjust="spacingAndGlyphs">0,1</text>
<text x="342.3" y="615.28" font-size="9.4" text-anchor="end" font-weight="normal" textLength="12.1" lengthAdjust="spacingAndGlyphs">0,2</text>
<text x="342.3" y="581.8" font-size="9.4" text-anchor="end" font-weight="normal" textLength="12.1" lengthAdjust="spacingAndGlyphs">0,3</text>
<text x="342.3" y="548.32" font-size="9.4" text-anchor="end" font-weight="normal" textLength="12.1" lengthAdjust="spacingAndGlyphs">0,4</text>
<text x="342.3" y="514.84" font-size="9.4" text-anchor="end" font-weight="normal" textLength="12.1" lengthAdjust="spacingAndGlyphs">0,5</text>
<text transform="translate(318,580.2) rotate(-90)" x="0" y="0" font-size="12" text-anchor="middle" textLength="74.8" lengthAdjust="spacingAndGlyphs" stroke="#000" stroke-width="0.3">BOUND/FREE</text>
<text x="413" y="697.4" font-size="12.8" text-anchor="start" font-weight="normal" textLength="41.0" lengthAdjust="spacingAndGlyphs" stroke="#000" stroke-width="0.35">BOUND</text>
<path d="M360.62,505.03 L360.72,506.1 L360.81,507.18 L360.9,508.26 L360.97,509.34 L361.03,510.43 L361.08,511.52 L361.13,512.62 L361.16,513.72 L361.19,514.83 L361.21,515.94 L361.22,517.05 L361.22,518.17 L361.22,519.29 L361.22,520.42 L361.21,521.54 L361.19,522.67 L361.17,523.81 L361.15,524.94 L361.12,526.08 L361.09,527.22 L361.06,528.36 L361.02,529.5 L360.99,530.65 L360.95,531.8 L360.92,532.95 L360.88,534.09 L360.85,535.25 L360.82,536.4 L360.79,537.55 L360.76,538.7 L360.73,539.86 L360.71,541.01 L360.69,542.16 L360.68,543.32 L360.67,544.47 L360.66,545.63 L360.67,546.78 L360.68,547.93 L360.69,549.08 L360.71,550.23 L360.74,551.38 L360.78,552.53 L360.83,553.67 L360.89,554.82 L360.95,555.96 L361.03,557.1 L361.12,558.24 L361.22,559.38 L361.33,560.51 L361.45,561.64 L361.59,562.77 L361.74,563.9 L361.9,565.02 L362.08,566.14 L362.27,567.26 L362.48,568.37 L362.71,569.48 L362.95,570.58 L363.21,571.68 L363.48,572.77 L363.78,573.85 L364.11,574.92 L364.45,575.98 L364.83,577.03 L365.23,578.05 L365.66,579.06 L366.13,580.05 L366.63,581.01 L367.16,581.95 L367.74,582.87 L368.35,583.76 L369,584.61 L369.69,585.44 L370.42,586.25 L371.18,587.02 L371.97,587.78 L372.79,588.51 L373.64,589.22 L374.51,589.91 L375.4,590.58 L376.31,591.24 L377.23,591.88 L378.16,592.51 L379.1,593.14 L380.05,593.75 L381.01,594.35 L381.96,594.95 L382.93,595.54 L383.89,596.13 L384.86,596.7 L385.83,597.27 L386.81,597.84 L387.79,598.39 L388.77,598.94 L389.76,599.49 L390.75,600.02 L391.74,600.55 L392.73,601.08 L393.73,601.6 L394.74,602.11 L395.74,602.61 L396.75,603.11 L397.76,603.61 L398.78,604.09 L399.79,604.58 L400.81,605.05 L401.84,605.52 L402.86,605.99 L403.89,606.45 L404.92,606.9 L405.95,607.35 L406.99,607.8 L408.03,608.24 L409.07,608.67 L410.11,609.1 L411.16,609.53 L412.21,609.94 L413.26,610.36 L414.31,610.77 L415.36,611.18 L416.42,611.58 L417.48,611.97 L418.54,612.37 L419.6,612.75 L420.67,613.14 L421.73,613.52 L422.8,613.89 L423.87,614.26 L424.94,614.63 L426.01,615 L427.09,615.36 L428.17,615.71 L429.24,616.07 L430.32,616.42 L431.4,616.76 L432.48,617.11 L433.57,617.45 L434.65,617.78 L435.74,618.12 L436.82,618.45 L437.91,618.78 L439,619.1 L440.09,619.42 L441.18,619.74 L442.27,620.06 L443.36,620.38 L444.46,620.69 L445.55,621 L446.65,621.31 L447.74,621.61 L448.84,621.91 L449.93,622.21 L451.03,622.51 L452.13,622.81 L453.23,623.11 L454.32,623.4 L455.42,623.69 L456.52,623.98 L457.62,624.27 L458.72,624.56 L459.82,624.85 L460.91,625.13 L462.01,625.42 L463.11,625.7 L464.21,625.98 L465.31,626.26 L466.41,626.54 L467.51,626.82 L468.6,627.1 L469.7,627.38 L470.8,627.65 L471.89,627.93 L472.99,628.21 L474.09,628.48 L475.18,628.76 L476.27,629.04 L477.37,629.31 L478.46,629.59 L479.55,629.86 L480.64,630.14 L481.73,630.42 L482.82,630.69 L483.91,630.97 L485,631.25 L486.08,631.53 L487.17,631.81 L488.25,632.09 L489.33,632.37 L490.41,632.65 L491.49,632.93 L492.57,633.21 L493.65,633.5 L494.72,633.78 L495.79,634.07 L496.87,634.36 L497.94,634.65 L499,634.94 L500.07,635.23 L501.14,635.53" fill="none" stroke="#000" stroke-width="1.4" stroke-linejoin="round" stroke-linecap="round"/>
<rect x="357.9" y="508.5" width="5.8" height="5.8" fill="#000"/>
<rect x="357.9" y="515.5" width="5.8" height="5.8" fill="#000"/>
<rect x="358.2" y="539.1" width="5.8" height="5.8" fill="#000"/>
<rect x="358.2" y="562.6" width="5.8" height="5.8" fill="#000"/>
<rect x="358.8" y="569.1" width="5.8" height="5.8" fill="#000"/>
<rect x="361" y="572.3" width="5.8" height="5.8" fill="#000"/>
<rect x="365.7" y="575.9" width="5.8" height="5.8" fill="#000"/>
<rect x="377.7" y="582.4" width="5.8" height="5.8" fill="#000"/>
<rect x="385.8" y="599.2" width="5.8" height="5.8" fill="#000"/>
<rect x="414.6" y="609.1" width="5.8" height="5.8" fill="#000"/>
<rect x="457.1" y="617.1" width="5.8" height="5.8" fill="#000"/>
<rect x="475.1" y="621.1" width="5.8" height="5.8" fill="#000"/>
<rect x="477.85" y="635.85" width="5.8" height="5.8" fill="#000"/>
<rect x="498.35" y="635.1" width="5.8" height="5.8" fill="#000"/>
<rect x="500.85" y="642.6" width="5.8" height="5.8" fill="#000"/>
<line x1="76.2" y1="802.58" x2="77.4" y2="1061.3" stroke="#000" stroke-width="1.5"/>
<line x1="71.8" y1="1061.3" x2="77.4" y2="1061.3" stroke="#000" stroke-width="1.5"/>
<line x1="74.5" y1="1039.74" x2="77.3" y2="1039.74" stroke="#000" stroke-width="1.5"/>
<line x1="71.6" y1="1018.18" x2="77.2" y2="1018.18" stroke="#000" stroke-width="1.5"/>
<line x1="74.3" y1="996.62" x2="77.1" y2="996.62" stroke="#000" stroke-width="1.5"/>
<line x1="71.4" y1="975.06" x2="77" y2="975.06" stroke="#000" stroke-width="1.5"/>
<line x1="74.1" y1="953.5" x2="76.9" y2="953.5" stroke="#000" stroke-width="1.5"/>
<line x1="71.2" y1="931.94" x2="76.8" y2="931.94" stroke="#000" stroke-width="1.5"/>
<line x1="73.9" y1="910.38" x2="76.7" y2="910.38" stroke="#000" stroke-width="1.5"/>
<line x1="71" y1="888.82" x2="76.6" y2="888.82" stroke="#000" stroke-width="1.5"/>
<line x1="73.7" y1="867.26" x2="76.5" y2="867.26" stroke="#000" stroke-width="1.5"/>
<line x1="70.8" y1="845.7" x2="76.4" y2="845.7" stroke="#000" stroke-width="1.5"/>
<line x1="73.5" y1="824.14" x2="76.3" y2="824.14" stroke="#000" stroke-width="1.5"/>
<line x1="70.6" y1="802.58" x2="76.2" y2="802.58" stroke="#000" stroke-width="1.5"/>
<text x="68.5" y="1064.7" font-size="13" text-anchor="end" font-weight="normal" >1000</text>
<text x="68.22" y="1021.58" font-size="13" text-anchor="end" font-weight="normal" >2000</text>
<text x="67.93" y="978.46" font-size="13" text-anchor="end" font-weight="normal" >3000</text>
<text x="67.65" y="935.34" font-size="13" text-anchor="end" font-weight="normal" >4000</text>
<text x="67.37" y="892.22" font-size="13" text-anchor="end" font-weight="normal" >5000</text>
<text x="67.08" y="849.1" font-size="13" text-anchor="end" font-weight="normal" >6000</text>
<text x="66.8" y="805.98" font-size="13" text-anchor="end" font-weight="normal" >7000</text>
<line x1="72" y1="1061.3" x2="505.3" y2="1061.3" stroke="#000" stroke-width="1.5"/>
<line x1="77.39" y1="1061.3" x2="77.39" y2="1064.3" stroke="#000" stroke-width="1.3"/>
<line x1="85.26" y1="1061.3" x2="85.26" y2="1064.3" stroke="#000" stroke-width="1.3"/>
<line x1="91.91" y1="1061.3" x2="91.91" y2="1064.3" stroke="#000" stroke-width="1.3"/>
<line x1="97.67" y1="1061.3" x2="97.67" y2="1064.3" stroke="#000" stroke-width="1.3"/>
<line x1="102.75" y1="1061.3" x2="102.75" y2="1064.3" stroke="#000" stroke-width="1.3"/>
<line x1="107.3" y1="1061.3" x2="107.3" y2="1066.8" stroke="#000" stroke-width="1.3"/>
<line x1="137.21" y1="1061.3" x2="137.21" y2="1064.3" stroke="#000" stroke-width="1.3"/>
<line x1="154.7" y1="1061.3" x2="154.7" y2="1064.3" stroke="#000" stroke-width="1.3"/>
<line x1="167.11" y1="1061.3" x2="167.11" y2="1064.3" stroke="#000" stroke-width="1.3"/>
<line x1="176.74" y1="1061.3" x2="176.74" y2="1064.3" stroke="#000" stroke-width="1.3"/>
<line x1="184.61" y1="1061.3" x2="184.61" y2="1064.3" stroke="#000" stroke-width="1.3"/>
<line x1="191.26" y1="1061.3" x2="191.26" y2="1064.3" stroke="#000" stroke-width="1.3"/>
<line x1="197.02" y1="1061.3" x2="197.02" y2="1064.3" stroke="#000" stroke-width="1.3"/>
<line x1="202.1" y1="1061.3" x2="202.1" y2="1064.3" stroke="#000" stroke-width="1.3"/>
<line x1="206.65" y1="1061.3" x2="206.65" y2="1066.8" stroke="#000" stroke-width="1.3"/>
<line x1="236.56" y1="1061.3" x2="236.56" y2="1064.3" stroke="#000" stroke-width="1.3"/>
<line x1="254.05" y1="1061.3" x2="254.05" y2="1064.3" stroke="#000" stroke-width="1.3"/>
<line x1="266.46" y1="1061.3" x2="266.46" y2="1064.3" stroke="#000" stroke-width="1.3"/>
<line x1="276.09" y1="1061.3" x2="276.09" y2="1064.3" stroke="#000" stroke-width="1.3"/>
<line x1="283.96" y1="1061.3" x2="283.96" y2="1064.3" stroke="#000" stroke-width="1.3"/>
<line x1="290.61" y1="1061.3" x2="290.61" y2="1064.3" stroke="#000" stroke-width="1.3"/>
<line x1="296.37" y1="1061.3" x2="296.37" y2="1064.3" stroke="#000" stroke-width="1.3"/>
<line x1="301.45" y1="1061.3" x2="301.45" y2="1064.3" stroke="#000" stroke-width="1.3"/>
<line x1="306" y1="1061.3" x2="306" y2="1066.8" stroke="#000" stroke-width="1.3"/>
<line x1="335.91" y1="1061.3" x2="335.91" y2="1064.3" stroke="#000" stroke-width="1.3"/>
<line x1="353.4" y1="1061.3" x2="353.4" y2="1064.3" stroke="#000" stroke-width="1.3"/>
<line x1="365.81" y1="1061.3" x2="365.81" y2="1064.3" stroke="#000" stroke-width="1.3"/>
<line x1="375.44" y1="1061.3" x2="375.44" y2="1064.3" stroke="#000" stroke-width="1.3"/>
<line x1="383.31" y1="1061.3" x2="383.31" y2="1064.3" stroke="#000" stroke-width="1.3"/>
<line x1="389.96" y1="1061.3" x2="389.96" y2="1064.3" stroke="#000" stroke-width="1.3"/>
<line x1="395.72" y1="1061.3" x2="395.72" y2="1064.3" stroke="#000" stroke-width="1.3"/>
<line x1="400.8" y1="1061.3" x2="400.8" y2="1064.3" stroke="#000" stroke-width="1.3"/>
<line x1="405.35" y1="1061.3" x2="405.35" y2="1066.8" stroke="#000" stroke-width="1.3"/>
<line x1="435.26" y1="1061.3" x2="435.26" y2="1064.3" stroke="#000" stroke-width="1.3"/>
<line x1="452.75" y1="1061.3" x2="452.75" y2="1064.3" stroke="#000" stroke-width="1.3"/>
<line x1="465.16" y1="1061.3" x2="465.16" y2="1064.3" stroke="#000" stroke-width="1.3"/>
<line x1="474.79" y1="1061.3" x2="474.79" y2="1064.3" stroke="#000" stroke-width="1.3"/>
<line x1="482.66" y1="1061.3" x2="482.66" y2="1064.3" stroke="#000" stroke-width="1.3"/>
<line x1="489.31" y1="1061.3" x2="489.31" y2="1064.3" stroke="#000" stroke-width="1.3"/>
<line x1="495.07" y1="1061.3" x2="495.07" y2="1064.3" stroke="#000" stroke-width="1.3"/>
<line x1="500.15" y1="1061.3" x2="500.15" y2="1064.3" stroke="#000" stroke-width="1.3"/>
<line x1="504.7" y1="1061.3" x2="504.7" y2="1066.8" stroke="#000" stroke-width="1.3"/>
<text x="107.3" y="1080.7" font-size="12.3" text-anchor="middle" font-weight="normal" >0,1</text>
<text x="206.65" y="1080.7" font-size="12.3" text-anchor="middle" font-weight="normal" >1</text>
<text x="306" y="1080.7" font-size="12.3" text-anchor="middle" font-weight="normal" >10</text>
<text x="405.35" y="1080.7" font-size="12.3" text-anchor="middle" font-weight="normal" >100</text>
<text x="504.7" y="1080.7" font-size="12.3" text-anchor="middle" font-weight="normal" >1000</text>
<text x="-0.3" y="813.8" font-size="25.2" text-anchor="start" font-weight="bold" >C</text>
<text x="126.2" y="1105" font-size="17.44" text-anchor="start" font-weight="normal" >concentrations of unlabeled ligands (ug/mL)</text>
<text transform="translate(15.0,1044.3) rotate(-90)" x="0" y="0" font-size="17.45"><tspan font-size="12.8" dy="-2.9">125</tspan><tspan dy="2.9">I-TNF-alpha bound (cpm)</tspan></text>
<path d="M97.05,838.8 C97.05,838.8 97.05,838.8 108.58,852.35 C120.1,865.9 143.15,893 166.31,921.98 C189.47,950.97 212.73,981.83 235.88,1001.42 C259.03,1021 282.07,1029.3 293.58,1033.45 C305.1,1037.6 305.1,1037.6 305.1,1037.6" fill="none" stroke="#2b2b2b" stroke-width="1.05"/>
<path d="M148.35,867.55 C148.35,867.55 148.35,867.55 159.98,874.68 C171.62,881.8 194.88,896.05 218.07,919.03 C241.25,942.02 264.35,973.73 287.53,992.04 C310.72,1010.35 333.98,1015.25 345.62,1017.7 C357.25,1020.15 357.25,1020.15 357.25,1020.15" fill="none" stroke="#2b2b2b" stroke-width="1.05"/>
<path d="M197,867.6 C197,867.6 197,867.6 208.41,883.73 C219.82,899.87 242.63,932.13 265.69,953.43 C288.75,974.73 312.05,985.07 335.22,996.07 C358.38,1007.07 381.42,1018.73 392.93,1024.57 C404.45,1030.4 404.45,1030.4 404.45,1030.4" fill="none" stroke="#2b2b2b" stroke-width="1.05"/>
<path d="M235.75,867.3 C235.75,867.3 235.75,867.3 242.87,876.1 C249.98,884.9 264.22,902.5 283.02,921.03 C301.82,939.57 325.18,959.03 348.47,971.98 C371.77,984.93 394.98,991.37 406.59,994.58 C418.2,997.8 418.2,997.8 418.2,997.8" fill="none" stroke="#2b2b2b" stroke-width="1.05"/>
<path d="M97.05,834.27 L100.95,841.07 L93.15,841.07 Z" fill="#000"/>
<path d="M166.2,915.57 L170.1,922.37 L162.3,922.37 Z" fill="#000"/>
<path d="M236,1008.17 L239.9,1014.97 L232.1,1014.97 Z" fill="#000"/>
<path d="M305.1,1033.07 L309,1039.87 L301.2,1039.87 Z" fill="#000"/>
<circle cx="148.35" cy="867.55" r="3.6" fill="#000"/>
<circle cx="218.15" cy="910.3" r="3.6" fill="#000"/>
<circle cx="287.45" cy="1005.45" r="3.6" fill="#000"/>
<circle cx="357.25" cy="1020.15" r="3.6" fill="#000"/>
<rect x="193.6" y="864.2" width="6.8" height="6.8" fill="#000"/>
<rect x="262.05" y="961" width="6.8" height="6.8" fill="#000"/>
<rect x="331.95" y="992" width="6.8" height="6.8" fill="#000"/>
<rect x="401.05" y="1027" width="6.8" height="6.8" fill="#000"/>
<path d="M235.75,871.83 L239.7,865.03 L231.8,865.03 Z" fill="#000"/>
<path d="M278.45,924.63 L282.4,917.83 L274.5,917.83 Z" fill="#000"/>
<path d="M348.55,983.03 L352.5,976.23 L344.6,976.23 Z" fill="#000"/>
<path d="M418.2,1002.33 L422.15,995.53 L414.25,995.53 Z" fill="#000"/>
</svg>
</body></html>
